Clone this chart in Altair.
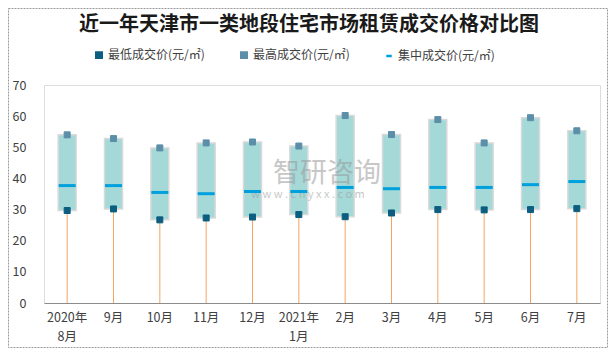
import altair as alt
import pandas as pd

TITLE = "近一年天津市一类地段住宅市场租赁成交价格对比图"
months = ["2020年 8月", "9月", "10月", "11月", "12月", "2021年 1月",
          "2月", "3月", "4月", "5月", "6月", "7月"]
low = [29.7, 30.2, 26.7, 27.3, 27.6, 28.4, 27.7, 28.9, 30.0, 29.9, 30.0, 30.3]
high = [54.0, 52.8, 49.8, 51.4, 51.7, 50.4, 60.2, 54.1, 58.9, 51.4, 59.5, 55.3]
mid = [37.7, 37.7, 35.5, 35.1, 35.8, 35.8, 37.1, 36.7, 37.1, 37.1, 38.0, 39.0]

S_LOW = "最低成交价(元/㎡)"
S_HIGH = "最高成交价(元/㎡)"
S_MID = "集中成交价(元/㎡)"
series_names = [S_LOW, S_HIGH, S_MID]
series_colors = ["#0B5E80", "#5B8FA9", "#00A0DC"]
series_shapes = ["square", "square", "stroke"]

FONT = "Noto Sans CJK SC"

df = pd.DataFrame({"month": months, "low": low, "high": high, "mid": mid,
                   "smid": [S_MID] * len(months)})
pts = pd.DataFrame({
    "month": months + months,
    "value": low + high,
    "series": [S_LOW] * len(months) + [S_HIGH] * len(months),
})

x_enc = alt.X("month:N", sort=months, title=None,
              scale=alt.Scale(paddingInner=0, paddingOuter=0),
              axis=alt.Axis(labelAngle=0, labelExpr="split(datum.label, ' ')",
                            labelLineHeight=19, labelFontSize=12.5, labelColor="#404040",
                            labelFont=FONT, ticks=False, domainColor="#8C8C8C",
                            domainWidth=1, labelPadding=8))
y_scale = alt.Scale(domain=[0, 70], nice=False)
y_axis = alt.Axis(values=[0, 10, 20, 30, 40, 50, 60, 70], domain=False, ticks=False,
                  grid=False, labelFontSize=12.5, labelColor="#404040", labelFont=FONT,
                  labelPadding=18)

fill_scale = alt.Scale(domain=series_names, range=series_colors)
shape_scale = alt.Scale(domain=series_names, range=series_shapes)
legend = alt.Legend(orient="none", legendX=49, legendY=-36, direction="horizontal",
                    title=None, labelFontSize=12, labelFont=FONT, labelColor="#404040",
                    symbolSize=30, symbolStrokeWidth=2.5, columnPadding=31, labelOffset=3)

base = alt.Chart(df)

whisker = base.mark_rule(color="#F4A460", strokeWidth=1).encode(
    x=x_enc, y=alt.Y("low:Q", scale=y_scale, axis=y_axis, title=None), y2=alt.datum(0))

box = base.mark_bar(size=18, fill="#A5D9D8", stroke="#D9D9D9", strokeWidth=1.5).encode(
    x=x_enc, y=alt.Y("low:Q", scale=y_scale, axis=y_axis, title=None), y2="high:Q")

ticks = base.mark_tick(thickness=3, size=17, opacity=1).encode(
    x=x_enc, y=alt.Y("mid:Q", scale=y_scale, axis=y_axis, title=None),
    fill=alt.Fill("smid:N", scale=fill_scale, legend=legend))

points = alt.Chart(pts).mark_point(filled=True, opacity=1, size=36, strokeWidth=1).encode(
    x=x_enc, y=alt.Y("value:Q", scale=y_scale, axis=y_axis, title=None),
    fill=alt.Fill("series:N", scale=fill_scale, legend=legend),
    stroke=alt.Stroke("series:N", scale=fill_scale, legend=legend),
    shape=alt.Shape("series:N", scale=shape_scale, legend=legend))

wm1 = alt.Chart(pd.DataFrame({"t": ["智研咨询"]})).mark_text(
    font=FONT, fontSize=27, color="#9A9A9A", opacity=0.55, align="center", baseline="middle"
).encode(text="t:N", x=alt.value(283), y=alt.value(89))
wm2 = alt.Chart(pd.DataFrame({"t": ["w w w . c h y x x . c o m"]})).mark_text(
    font=FONT, fontSize=11, color="#9A9A9A", opacity=0.55, align="center", baseline="middle"
).encode(text="t:N", x=alt.value(264), y=alt.value(110))

title = alt.Chart(pd.DataFrame({"t": [TITLE]})).mark_text(
    font=FONT, fontSize=20, fontWeight="bold", color="#1A1A1A", align="center",
    baseline="middle"
).encode(text="t:N", x=alt.value(265), y=alt.value(-60))

border = alt.Chart(pd.DataFrame({"b": [0]})).mark_rect(
    fill=None, stroke="#9A9A9A", strokeWidth=1, strokeDash=[2, 1]
).encode(x=alt.value(-35.5), x2=alt.value(563.5), y=alt.value(-76.5), y2=alt.value(262.5))

chart = alt.layer(border, whisker, box, wm1, wm2, ticks, points, title).resolve_scale(
    fill="shared", stroke="shared", shape="shared"
).properties(
    width=556, height=218,
    autosize=alt.AutoSizeParams(type="none"),
    padding={"left": 36, "top": 77, "right": 8, "bottom": 45},
).configure_view(stroke=None).configure(background="white")

chart.save("out.html", embed_options={"renderer": "svg", "actions": False})
